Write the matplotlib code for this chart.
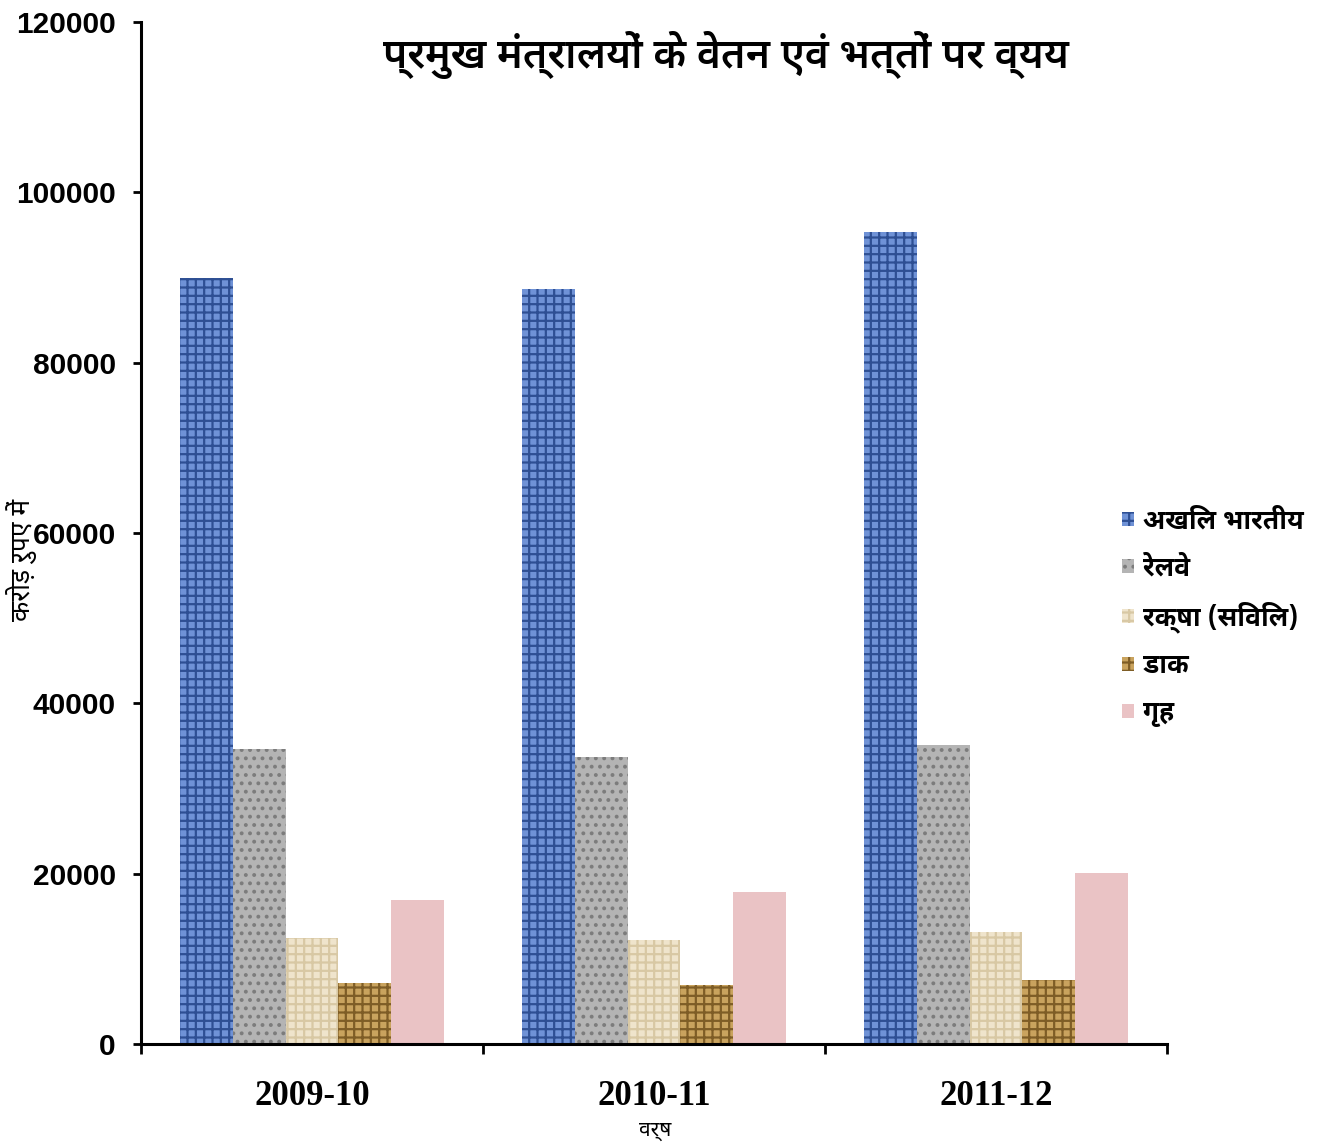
import matplotlib
matplotlib.use("Agg")
import matplotlib.pyplot as plt
import numpy as np

# Data (crore rupees)
years = ["2009-10", "2010-11", "2011-12"]
series = ["अखिल भारतीय", "रेलवे", "रक्षा (सिविल)", "डाक", "गृह"]
all_india = [90000, 88700, 95300]
railway = [34600, 33700, 35100]
defence_civil = [12400, 12200, 13200]
post = [7200, 6900, 7500]
home = [16900, 17800, 20100]

values = [all_india, railway, defence_civil, post, home]
faces = ["#6F92D6", "#B4B4B4", "#EFE4CC", "#C9A35E", "#EAC3C5"]
hatch_cols = ["#2E4F93", "#7C7C7C", "#D8C8A4", "#7E5D26", "#EAC3C5"]
hatches = ["++", "..", "++", "++", None]

deva = ["Noto Sans Devanagari", "Noto Sans Devanagari UI", "DejaVu Sans"]
deva_bold = ["Noto Sans Devanagari UI", "Noto Sans Devanagari", "DejaVu Sans"]

plt.rcParams["hatch.linewidth"] = 1.6

fig = plt.figure(figsize=(13.34, 11.45), dpi=100)
ax = fig.add_axes([141 / 1334, 101 / 1145, 1026 / 1334, 1022 / 1145])

x = np.arange(len(years))
w = 1 / 6.5
for i, vals in enumerate(values):
    ax.bar(x - 2 * w + i * w, vals, width=w, color=faces[i],
           edgecolor=hatch_cols[i], linewidth=0, hatch=hatches[i],
           label=series[i])

ax.set_xlim(-0.5, 2.5)
ax.set_ylim(0, 120000)
ax.set_yticks(np.arange(0, 120001, 20000))
ax.set_yticklabels([str(v) for v in range(0, 120001, 20000)],
                   fontfamily="Liberation Sans", fontweight="bold", fontsize=21.5)
ax.set_xticks(x)
ax.set_xticklabels(years, fontfamily="Liberation Serif", fontweight="bold", fontsize=25)
ax.set_xticks([-0.5, 0.5, 1.5, 2.5], minor=True)
ax.tick_params(axis="x", which="major", length=0, pad=26)
ax.tick_params(axis="x", which="minor", length=7, width=2, direction="out")
ax.tick_params(axis="y", length=6, width=2, direction="out", pad=12)

for s in ["top", "right"]:
    ax.spines[s].set_visible(False)
for s in ["left", "bottom"]:
    ax.spines[s].set_linewidth(2.2)

fig.text(0.544, 0.952, "प्रमुख मंत्रालयों के वेतन एवं भत्तों पर व्यय", ha="center", va="center",
         fontsize=29.5, family=deva_bold, fontweight="semibold")
fig.text(0.016, 0.511, "करोड़ रुपए में", rotation=90, ha="center", va="center",
         fontsize=19, family=deva)
fig.text(0.491, 0.013, "वर्ष", ha="center", va="center", fontsize=15, family=deva)

leg = ax.legend(loc="upper left", bbox_to_anchor=(1098 / 1334, 1 - 484 / 1145),
                bbox_transform=fig.transFigure, frameon=False,
                prop={"family": deva_bold, "weight": "bold", "size": 19},
                handlelength=0.45, handleheight=0.45, handletextpad=0.35,
                labelspacing=0.72)

fig.savefig("out.png", dpi=100)
